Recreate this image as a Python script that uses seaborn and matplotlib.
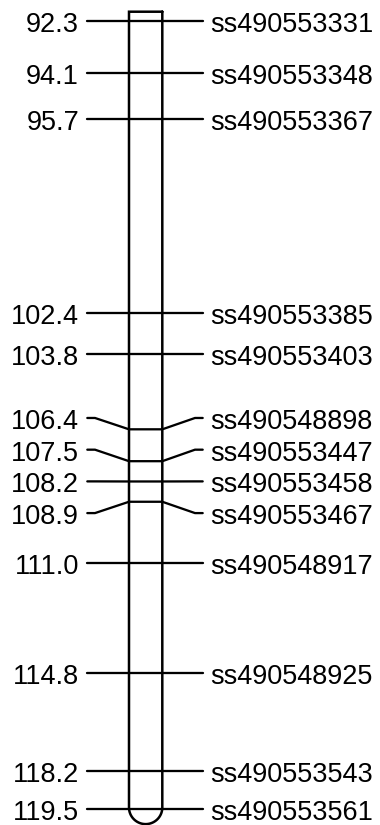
import numpy as np
import pandas as pd
import matplotlib
matplotlib.use("Agg")
import matplotlib.pyplot as plt
import matplotlib.transforms as mtransforms
import seaborn as sns

# ---- data ----
positions = [92.3, 94.1, 95.7, 102.4, 103.8, 106.4, 107.5, 108.2, 108.9,
             111.0, 114.8, 118.2, 119.5]
markers = ["ss490553331", "ss490553348", "ss490553367", "ss490553385",
           "ss490553403", "ss490548898", "ss490553447", "ss490553458",
           "ss490553467", "ss490548917", "ss490548925", "ss490553543",
           "ss490553561"]

sns.set_theme(style="white")
plt.rcParams["font.family"] = ["Liberation Sans", "DejaVu Sans"]

# ---- label spreading (min spacing in cM) ----
MIN_GAP = 1.094


def spread(pos, d):
    clusters = [[i] for i in range(len(pos))]

    def place(cl):
        c = (pos[cl[0]] + pos[cl[-1]]) / 2.0
        n = len(cl)
        return [c + (k - (n - 1) / 2.0) * d for k in range(n)]

    changed = True
    while changed:
        changed = False
        for j in range(len(clusters) - 1):
            a, b = place(clusters[j]), place(clusters[j + 1])
            if b[0] - a[-1] < d - 1e-9:
                clusters[j] = clusters[j] + clusters[j + 1]
                del clusters[j + 1]
                changed = True
                break
    out = []
    for cl in clusters:
        out.extend(place(cl))
    return out


label_pos = spread(positions, MIN_GAP)

# ---- figure ----
fig = plt.figure(figsize=(3.8, 8.25), dpi=100)
ax = fig.add_axes([0, 0, 1, 1])
ax.set_xlim(0, 380)
ax.set_ylim(120.054, 91.586)
ax.axis("off")

# geometry (x in figure pixel units)
xl0, xl1 = 87.3, 95.0
cx0, cx1 = 129.0, 162.3
xr0, xr1 = 195.0, 202.7

# connector lines
rows = []
for m, y, ly in zip(markers, positions, label_pos):
    pts = [(xl0, ly), (xl1, ly), (cx0, y), (cx1, y), (xr0, ly), (xr1, ly)]
    for k, (x, yy) in enumerate(pts):
        rows.append({"marker": m, "order": k, "x": x, "y": yy})
df = pd.DataFrame(rows)
sns.lineplot(data=df, x="x", y="y", units="marker", estimator=None, sort=False,
             color="black", linewidth=1.65, legend=False, ax=ax,
             solid_joinstyle="round")

# chromosome outline: flat top, rounded bottom
top = positions[0] - 0.31
cy = positions[-1] - 0.05
ry = 0.573
rx = (cx1 - cx0) / 2.0
cmid = (cx0 + cx1) / 2.0
t = np.linspace(0, np.pi, 60)
xs = np.concatenate([[cx1, cx0, cx0], cmid - rx * np.cos(t), [cx1, cx1]])
ys = np.concatenate([[top, top, cy], cy + ry * np.sin(t), [cy, top]])
ax.plot(xs, ys, color="black", linewidth=1.8, solid_joinstyle="miter", zorder=3)

# labels
trans = mtransforms.offset_copy(ax.transData, fig=fig, x=0, y=-11, units="dots")
for m, y, ly in zip(markers, positions, label_pos):
    ax.text(79, ly, f"{y:.1f}", ha="right", va="baseline", fontsize=19.5,
            color="black", transform=trans)
    ax.text(210, ly, m, ha="left", va="baseline", fontsize=19.5,
            color="black", transform=trans)

fig.savefig("out.png", dpi=100, facecolor="white")
